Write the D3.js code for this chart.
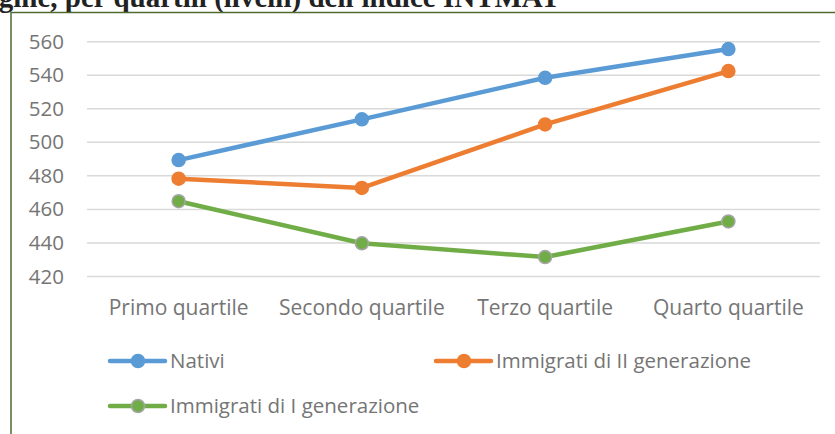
<html>
<head>
<style>
body { margin: 0; background: #fff; }
svg { display: block; }
.tick text { font-family: 'Open Sans', sans-serif; fill: #757575; }
</style>
<script src="https://d3js.org/d3.v7.min.js"></script>
</head>
<body>
<svg id="chart" width="835" height="434"></svg>
<script>
const categories = ['Primo quartile', 'Secondo quartile', 'Terzo quartile', 'Quarto quartile'];
const nativi = [489.4, 513.7, 538.5, 555.6];
const immigratiII = [478.3, 472.8, 510.7, 542.5];
const immigratiI = [464.9, 439.8, 431.6, 452.8];
const yTicks = [420, 440, 460, 480, 500, 520, 540, 560];

const series = [
  {name: 'Nativi', values: nativi, color: '#5B9BD5', stroke: '#5B9BD5'},
  {name: 'Immigrati di II generazione', values: immigratiII, color: '#ED7D31', stroke: '#ED7D31'},
  {name: 'Immigrati di I generazione', values: immigratiI, color: '#70AD47', stroke: '#A5A5A5'}
];

const svg = d3.select('#chart');

// title, cut off at the top of the picture
svg.append('text')
  .attr('x', 560).attr('y', 7)
  .attr('text-anchor', 'end')
  .style('font-family', 'Liberation Serif, serif')
  .style('font-weight', 'bold')
  .style('font-size', '29px')
  .style('fill', '#222')
  .text("per origine, per quartili (livelli) dell'indice INTMAT");

// frame of the chart
svg.append('path')
  .attr('d', 'M11,434 V12.5 H835')
  .attr('fill', 'none')
  .attr('stroke', '#4f6b30')
  .attr('stroke-width', 1.5);

const x = d3.scaleBand().domain(categories).range([87, 820]);
const y = d3.scaleLinear().domain([420, 560]).range([276.5, 41.7]);

// gridlines
svg.append('g')
  .selectAll('line').data(yTicks).enter().append('line')
  .attr('x1', 87).attr('x2', 820)
  .attr('y1', d => y(d)).attr('y2', d => y(d))
  .attr('stroke', '#d9d9d9').attr('stroke-width', 1.5);

const yAxis = svg.append('g')
  .attr('transform', 'translate(68,0)')
  .call(d3.axisLeft(y).tickValues(yTicks).tickSize(0).tickPadding(4));
yAxis.select('.domain').remove();
yAxis.selectAll('text').style('font-size', '20.5px');

const xAxis = svg.append('g')
  .attr('transform', 'translate(0,300)')
  .call(d3.axisBottom(x).tickSize(0).tickPadding(0));
xAxis.select('.domain').remove();
xAxis.selectAll('text').style('font-size', '21px');

const line = d3.line()
  .x((d, i) => x(categories[i]) + x.bandwidth() / 2)
  .y(d => y(d));

series.forEach(s => {
  svg.append('path')
    .datum(s.values)
    .attr('d', line)
    .attr('fill', 'none')
    .attr('stroke', s.color)
    .attr('stroke-width', 4.5)
    .attr('stroke-linejoin', 'round');
  svg.append('g')
    .selectAll('circle').data(s.values).enter().append('circle')
    .attr('cx', (d, i) => x(categories[i]) + x.bandwidth() / 2)
    .attr('cy', d => y(d))
    .attr('r', 6.5)
    .attr('fill', s.color)
    .attr('stroke', s.stroke)
    .attr('stroke-width', 1.5);
});

// legend
const legendPos = [[110, 361], [436, 361], [110, 406]];
series.forEach((s, i) => {
  const [lx, ly] = legendPos[i];
  const g = svg.append('g').attr('transform', 'translate(' + lx + ',' + ly + ')');
  g.append('line').attr('x1', 0).attr('x2', 55).attr('y1', 0).attr('y2', 0)
    .attr('stroke', s.color).attr('stroke-width', 4.5).attr('stroke-linecap', 'round');
  g.append('circle').attr('cx', 28).attr('cy', 0).attr('r', 6.5)
    .attr('fill', s.color).attr('stroke', s.stroke).attr('stroke-width', 1.5);
  g.append('text').attr('x', 60).attr('y', 0).attr('dy', '0.35em')
    .style('font-family', 'Open Sans, sans-serif').style('font-size', '20.5px')
    .style('fill', '#757575')
    .text(s.name);
});
</script>
</body>
</html>
